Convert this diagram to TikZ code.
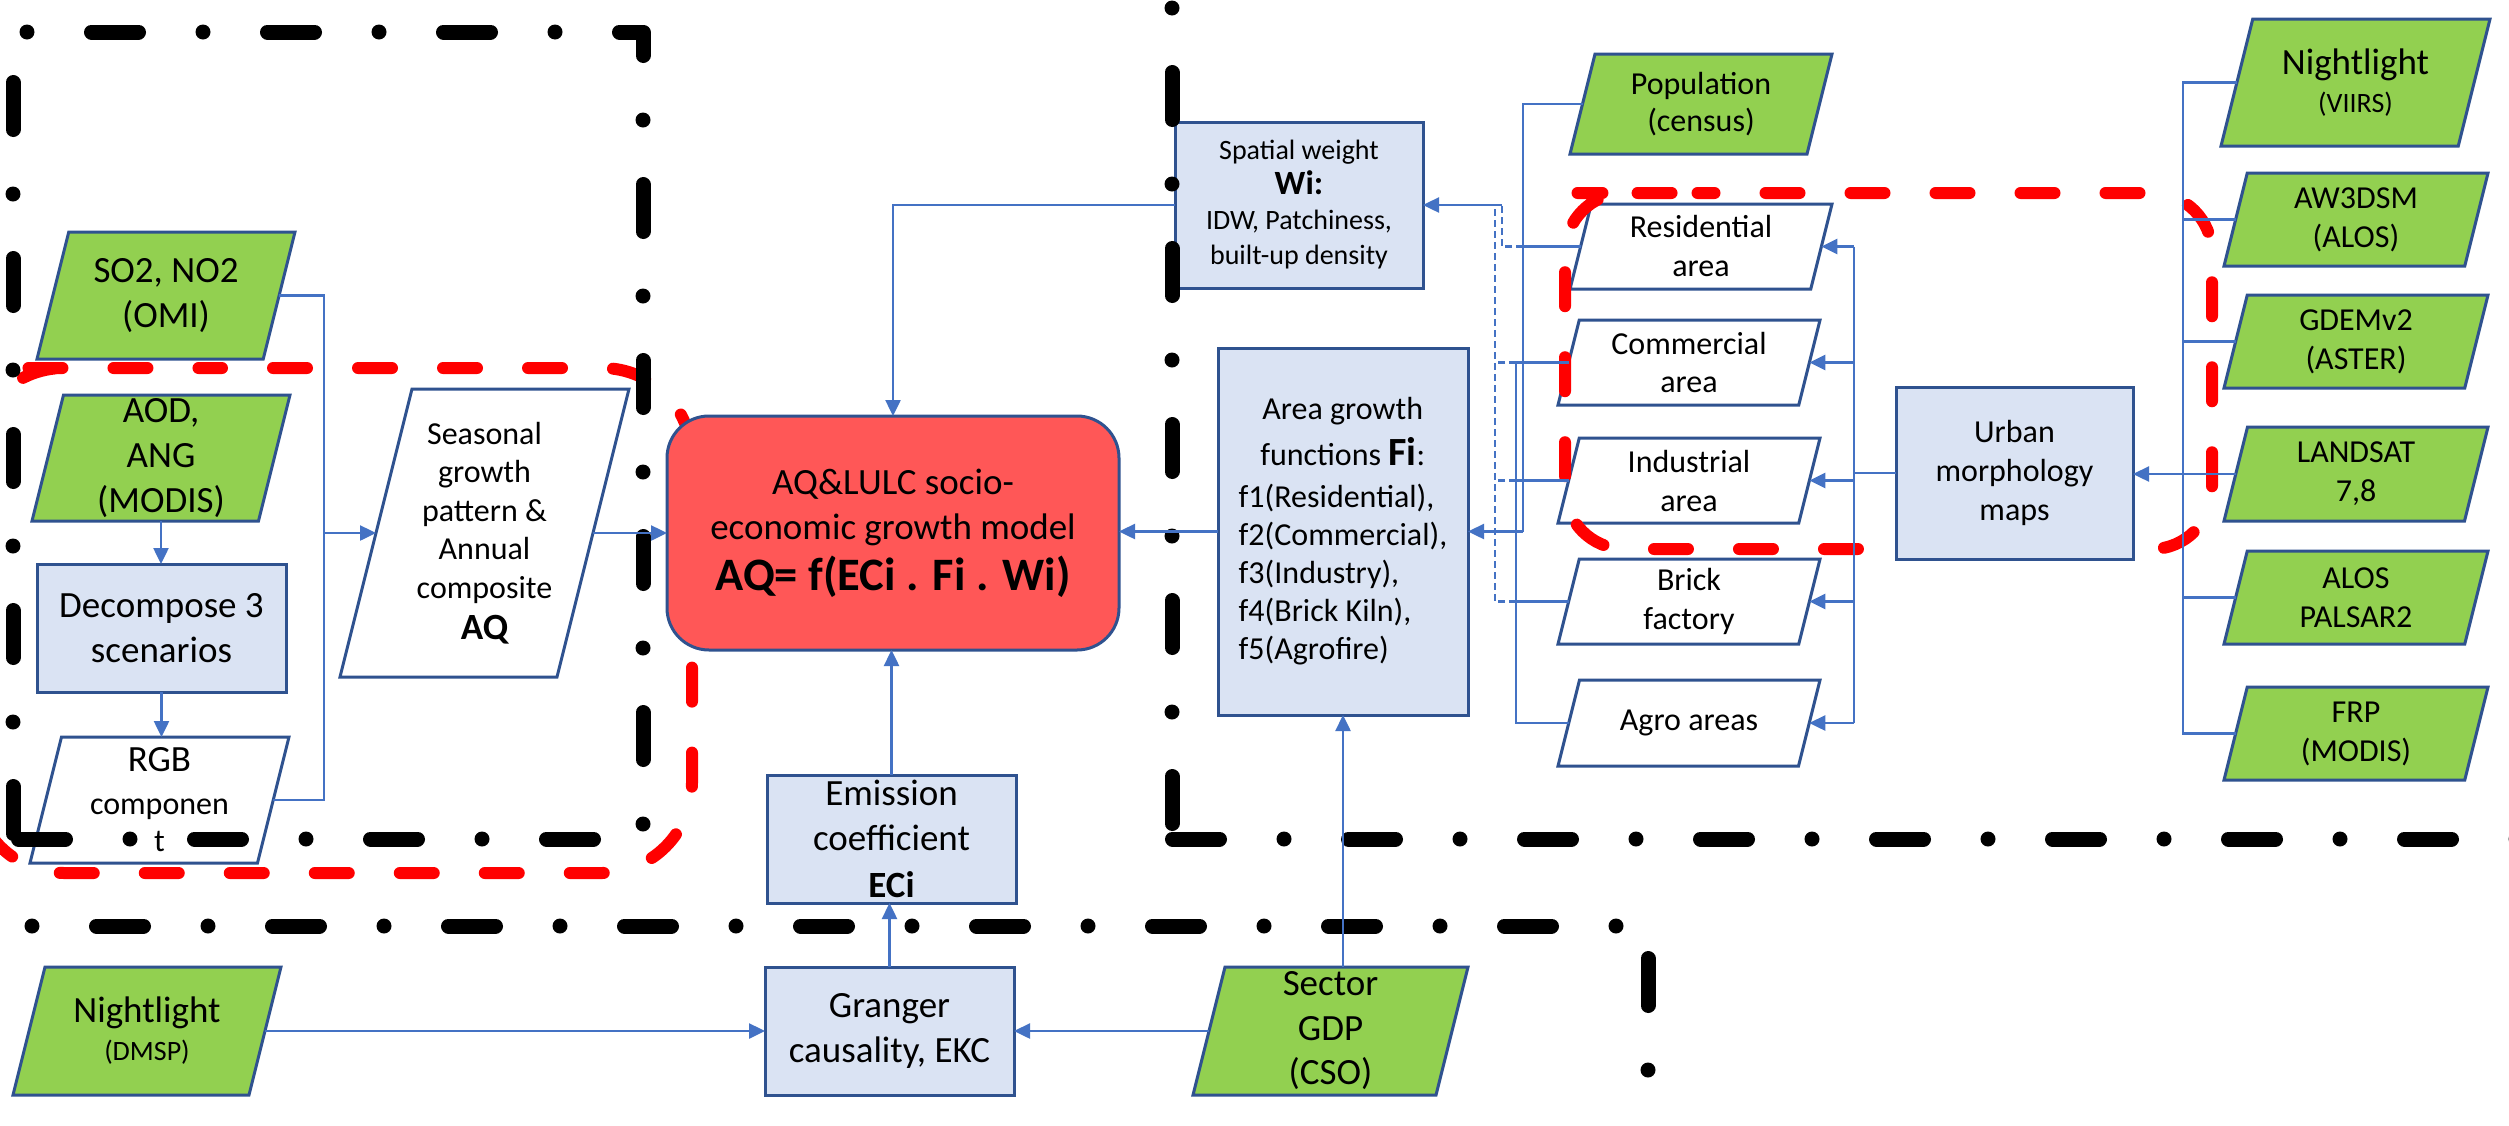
\documentclass[tikz,border=0pt]{standalone}
\usepackage{fontspec}
\setmainfont{Carlito}
\usetikzlibrary{arrows.meta}

\definecolor{lineblue}{HTML}{4472C4}
\definecolor{edgeblue}{HTML}{2F528F}
\definecolor{boxblue}{HTML}{DAE3F3}
\definecolor{datagreen}{HTML}{92D050}
\definecolor{modelred}{HTML}{FF5757}
\definecolor{zonered}{HTML}{FF0000}

% Parallelogram (data) shape: top edge shifted right by a quarter of the height
\makeatletter
\pgfdeclareshape{slantbox}{%
  \inheritsavedanchors[from=rectangle]%
  \inheritanchorborder[from=rectangle]%
  \inheritanchor[from=rectangle]{center}%
  \inheritanchor[from=rectangle]{north}%
  \inheritanchor[from=rectangle]{south}%
  \anchor{west}{%
    \southwest \pgf@xa=\pgf@x \pgf@ya=\pgf@y
    \northeast \pgf@yb=\pgf@y
    \pgf@xc=\pgf@yb \advance\pgf@xc by -\pgf@ya
    \pgf@x=\pgf@xa \advance\pgf@x by 0.125\pgf@xc
    \pgf@y=\pgf@ya \advance\pgf@y by 0.5\pgf@xc
  }%
  \anchor{east}{%
    \southwest \pgf@ya=\pgf@y
    \northeast \pgf@xb=\pgf@x \pgf@yb=\pgf@y
    \pgf@xc=\pgf@yb \advance\pgf@xc by -\pgf@ya
    \pgf@x=\pgf@xb \advance\pgf@x by -0.125\pgf@xc
    \pgf@y=\pgf@ya \advance\pgf@y by 0.5\pgf@xc
  }%
  \backgroundpath{%
    \southwest \pgf@xa=\pgf@x \pgf@ya=\pgf@y
    \northeast \pgf@xb=\pgf@x \pgf@yb=\pgf@y
    \pgf@xc=\pgf@yb \advance\pgf@xc by -\pgf@ya
    \pgf@xc=0.25\pgf@xc
    \edef\sbLeft{\the\pgf@xa}\edef\sbBottom{\the\pgf@ya}%
    \edef\sbRight{\the\pgf@xb}\edef\sbTop{\the\pgf@yb}%
    \advance\pgf@xa by \pgf@xc \edef\sbTopLeft{\the\pgf@xa}%
    \advance\pgf@xb by -\pgf@xc \edef\sbBottomRight{\the\pgf@xb}%
    \pgfpathmoveto{\pgfqpoint{\sbLeft}{\sbBottom}}%
    \pgfpathlineto{\pgfqpoint{\sbBottomRight}{\sbBottom}}%
    \pgfpathlineto{\pgfqpoint{\sbRight}{\sbTop}}%
    \pgfpathlineto{\pgfqpoint{\sbTopLeft}{\sbTop}}%
    \pgfpathclose
  }%
}
\makeatother

\tikzset{
  boxbase/.style={draw=edgeblue, line width=3pt, inner sep=0pt, outer sep=0pt, align=center, text=black},
  procbox/.style={boxbase, shape=rectangle, fill=boxblue},
  datain/.style={boxbase, shape=slantbox, fill=datagreen},
  dataout/.style={boxbase, shape=slantbox, fill=white},
  modelbox/.style={boxbase, shape=rectangle, rounded corners=42pt, fill=modelred},
  conn/.style={draw=lineblue, line width=2.5pt},
  arr/.style={conn, -{Triangle[length=16pt,width=15pt]}},
  dconn/.style={conn, dash pattern=on 7pt off 4pt},
  zone/.style={draw=black, line width=15pt, line cap=round, line join=round,
               dash pattern=on 0pt off 64.5pt on 47pt off 64.5pt},
  rzone/.style={draw=zonered, line width=12pt, line cap=round, line join=round,
               dash pattern=on 34pt off 51pt},
  fA/.style={font=\fontsize{37}{44.5}\selectfont},
  fB/.style={font=\fontsize{32}{39}\selectfont},
  fC/.style={font=\fontsize{28}{35}\selectfont},
}

\newcommand{\smallsrc}[1]{{\fontsize{28}{34}\selectfont #1}}

\begin{document}
\begin{tikzpicture}[x=1pt,y=-1pt]
\useasboundingbox (0,0) rectangle (2509,1125);
\clip (0,0) rectangle (2509,1125);
\fill[white] (0,0) rectangle (2509,1125);

% red zone around the air-quality inputs (lies under the model box)
\draw[rzone, rounded corners=90pt, dash phase=17pt]
  (115,368) -- (692,368) -- (692,873) -- (-26,873) -- (-26,368) -- cycle;

% ---- air-quality inputs
\node[datain, fA, minimum width=258pt, minimum height=127pt] (so2) at (166,295.5) {SO2, NO2\\(OMI)};
\node[datain, font=\fontsize{37}{45}\selectfont, minimum width=258pt, minimum height=126pt] (aod) at (161,458) {AOD,\\ANG\\(MODIS)};
\node[procbox, font=\fontsize{37}{45}\selectfont, minimum width=249pt, minimum height=128pt] (dec) at (161.5,628) {Decompose 3\\scenarios};
\node[dataout, font=\fontsize{32}{37}\selectfont, minimum width=259pt, minimum height=126pt] (rgb) at (159.5,800)
  {{\fontsize{37}{44}\selectfont RGB}\\[6pt]componen\\t};
\node[dataout, font=\fontsize{32}{38.5}\selectfont, minimum width=289pt, minimum height=288pt] (seas) at (484.5,533)
  {Seasonal\\growth\\pattern \&\\Annual\\composite\\[3pt]{\fontsize{37}{44}\selectfont\bfseries AQ}};

% ---- model
\node[modelbox, font=\fontsize{37}{45}\selectfont, minimum width=452pt, minimum height=234pt] (aq) at (893,533)
  {AQ\&LULC socio-\\economic growth model\\[6pt]{\fontsize{46.5}{50}\selectfont\bfseries AQ= f(ECi . Fi . Wi)}};

\node[procbox, fC, minimum width=248pt, minimum height=166pt] (sw) at (1299,205)
  {Spatial weight\\{\fontsize{34}{40}\selectfont\bfseries Wi:}\\IDW, Patchiness,\\built-up density};
\node[procbox, font=\fontsize{32}{38}\selectfont, align=left, minimum width=250pt, minimum height=367pt] (fi) at (1343,531.5)
  {\makebox[208pt][c]{Area growth}\\[8pt]\makebox[208pt][c]{functions {\fontsize{40}{46}\selectfont\bfseries Fi}:}\\[4pt]f1(Residential),\\f2(Commercial),\\f3(Industry),\\f4(Brick Kiln),\\f5(Agrofire)};
\node[procbox, font=\fontsize{37}{45}\selectfont, minimum width=249pt, minimum height=128pt] (em) at (891.5,839)
  {Emission\\coefficient\\[2pt]{\bfseries ECi}};

% ---- economic inputs
\node[procbox, fA, minimum width=249pt, minimum height=128pt] (gr) at (889.5,1031) {Granger\\causality, EKC};
\node[datain, font=\fontsize{37}{38}\selectfont, minimum width=268pt, minimum height=128pt] (dmsp) at (147,1031)
  {Nightlight\\\smallsrc{(DMSP)}};
\node[datain, font=\fontsize{37}{44.5}\selectfont, minimum width=275pt, minimum height=128pt] (gdp) at (1330.5,1031)
  {Sector\\GDP\\(CSO)};

% ---- land-use layers
\node[datain, font=\fontsize{32}{37}\selectfont, minimum width=262pt, minimum height=100pt] (pop) at (1701,104) {Population\\(census)};
\node[dataout, fB, minimum width=262pt, minimum height=85pt] (res) at (1701,246.5) {Residential\\area};
\node[dataout, fB, minimum width=262pt, minimum height=85pt] (com) at (1689,362.5) {Commercial\\area};
\node[dataout, fB, minimum width=262pt, minimum height=85pt] (ind) at (1689,480.5) {Industrial\\area};
\node[dataout, fB, minimum width=262pt, minimum height=85pt] (brick) at (1689,601.5) {Brick\\factory};
\node[dataout, fB, minimum width=262pt, minimum height=86pt] (agro) at (1689,723) {Agro areas};

% ---- remote-sensing sources
\node[datain, font=\fontsize{37}{38}\selectfont, minimum width=269pt, minimum height=127pt] (nl) at (2355.5,82.5)
  {Nightlight\\\smallsrc{(VIIRS)}};
\node[datain, fB, minimum width=264pt, minimum height=93pt] (aw) at (2356,219.5) {AW3DSM\\(ALOS)};
\node[datain, fB, minimum width=264pt, minimum height=93pt] (gdem) at (2356,341.5) {GDEMv2\\(ASTER)};
\node[datain, fB, minimum width=264pt, minimum height=94pt] (land) at (2356,474) {LANDSAT\\7,8};
\node[datain, fB, minimum width=264pt, minimum height=93pt] (alos) at (2356,597.5) {ALOS\\PALSAR2};
\node[datain, fB, minimum width=264pt, minimum height=93pt] (frp) at (2356,733.5) {FRP\\(MODIS)};

% red zone around the urban land-use layers
\draw[rzone, rounded corners=60pt, dash phase=17pt]
  (1637.5,193) -- (2212,193) -- (2212,549) -- (1565,549) -- (1565,193) -- cycle;

\node[procbox, fB, minimum width=237pt, minimum height=172pt] (urban) at (2014.5,473) {Urban\\morphology\\maps};

% ---- black dash-dot zones
\draw[zone, dash phase=59pt] (13,839) -- (13,32) -- (643,32) -- (643,839) -- (13,839);
\draw[zone, dash phase=49pt] (1172,839) -- (1172,-120);
\draw[zone, dash phase=64pt] (1172,839) -- (2620,839);
\draw[zone] (32,926) -- (1648,926) -- (1648,1220);

% ---- connectors: air quality
\coordinate (jl) at (324,533);
\draw[conn] (so2.east) -| (jl);
\draw[conn] (rgb.east) -| (jl);
\draw[arr] (jl) -- (jl -| seas.west);
\draw[arr] (aod.south) -- (aod.south |- dec.north);
\draw[arr] (dec.south) -- (dec.south |- rgb.north);
\draw[arr] (seas.east) -- (seas.east -| aq.west);

% ---- connectors: model inputs
\draw[arr] (sw.west) -| (aq.north);
\draw[arr] (fi.west) -- (fi.west -| aq.east);
\draw[arr] (em.north) -- (em.north |- aq.south);
\draw[arr] (gr.north) -- (gr.north |- em.south);
\draw[arr] (dmsp.east) -- (dmsp.east -| gr.west);
\draw[arr] (gdp.west) -- (gdp.west -| gr.east);
\draw[arr] (gdp.north -| fi.south) -- (fi.south);

% ---- connectors: remote sensing to urban morphology
\coordinate (rsbus) at (2183,0);
\draw[conn] (nl.west) -- (nl.west -| rsbus) -- (frp.west -| rsbus) -- (frp.west);
\foreach \n in {aw,gdem,alos}{\draw[conn] (\n.west) -- (\n.west -| rsbus);}
\draw[arr] (land.west) -- (land.west -| urban.east);

% ---- connectors: urban morphology to land-use layers
\coordinate (ubus) at (1854,0);
\draw[conn] (urban.west) -- (urban.west -| ubus);
\draw[conn] (res.east -| ubus) -- (agro.east -| ubus);
\foreach \n in {res,com,ind,brick,agro}{\draw[arr] (\n.east -| ubus) -- (\n.east);}

% ---- connectors: land-use layers to Fi and Wi
\coordinate (pbus) at (1523,0);
\coordinate (fbus) at (1516,0);
\coordinate (wbus) at (1495,0);
\coordinate (rwbus) at (1502,0);
\draw[conn] (pop.west) -| (fi.east -| pbus);
\draw[arr] (fi.east -| pbus) -- (fi.east);
\draw[conn] (com.west) -- (com.west -| fbus) -- (agro.west -| fbus) -- (agro.west);
\draw[conn] (ind.west) -- (ind.west -| fbus);
\draw[conn] (brick.west) -- (brick.west -| fbus);
\draw[conn] (res.west) -- (res.west -| pbus);
\draw[dconn] (res.west -| pbus) -- (res.west -| rwbus) -- (sw.east -| rwbus);
\draw[dconn] (com.west -| fbus) -- (com.west -| wbus);
\draw[dconn] (ind.west -| fbus) -- (ind.west -| wbus);
\draw[dconn] (brick.west -| fbus) -- (brick.west -| wbus) -- (sw.east -| wbus);
\draw[arr] (sw.east -| rwbus) -- (sw.east);
\end{tikzpicture}
\end{document}
